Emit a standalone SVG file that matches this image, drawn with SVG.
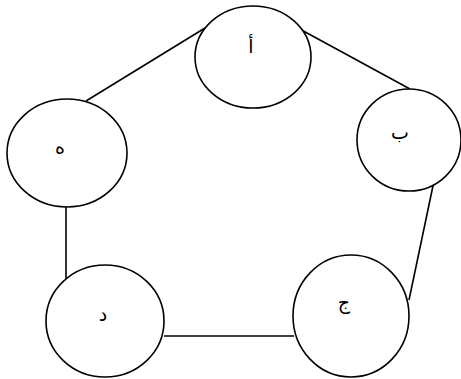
<svg xmlns="http://www.w3.org/2000/svg" width="461" height="379" viewBox="0 0 461 379">
<style>
.n{fill:#fff;stroke:#000;stroke-width:1.6}
.c line{stroke:#000;stroke-width:1.6}
.t{font-family:"DejaVu Sans","Noto Sans",sans-serif;font-size:19px;fill:#000;text-anchor:middle}
</style>
<rect width="461" height="379" fill="#fff"/>
<g class="c" id="connectors">
<line x1="86" y1="101" x2="205" y2="28"/>
<line x1="296" y1="27" x2="410" y2="89"/>
<line x1="434" y1="181" x2="409" y2="300"/>
<line x1="164" y1="336" x2="294" y2="336"/>
<line x1="66" y1="207" x2="66" y2="280"/>
</g>
<g id="node-a"><ellipse class="n" cx="253" cy="57" rx="58" ry="51"/><text class="t" x="251" y="53">أ</text></g>
<g id="node-b"><ellipse class="n" cx="409" cy="140" rx="52" ry="51"/><text class="t" x="400" y="139">ب</text></g>
<g id="node-j"><ellipse class="n" cx="351" cy="316" rx="58" ry="61"/><text class="t" x="344" y="309">ج</text></g>
<g id="node-d"><ellipse class="n" cx="105" cy="321" rx="59" ry="56"/><text class="t" x="103" y="321">د</text></g>
<g id="node-h"><ellipse class="n" cx="67" cy="153" rx="60" ry="54"/><text class="t" x="60" y="154">ه</text></g>
</svg>
